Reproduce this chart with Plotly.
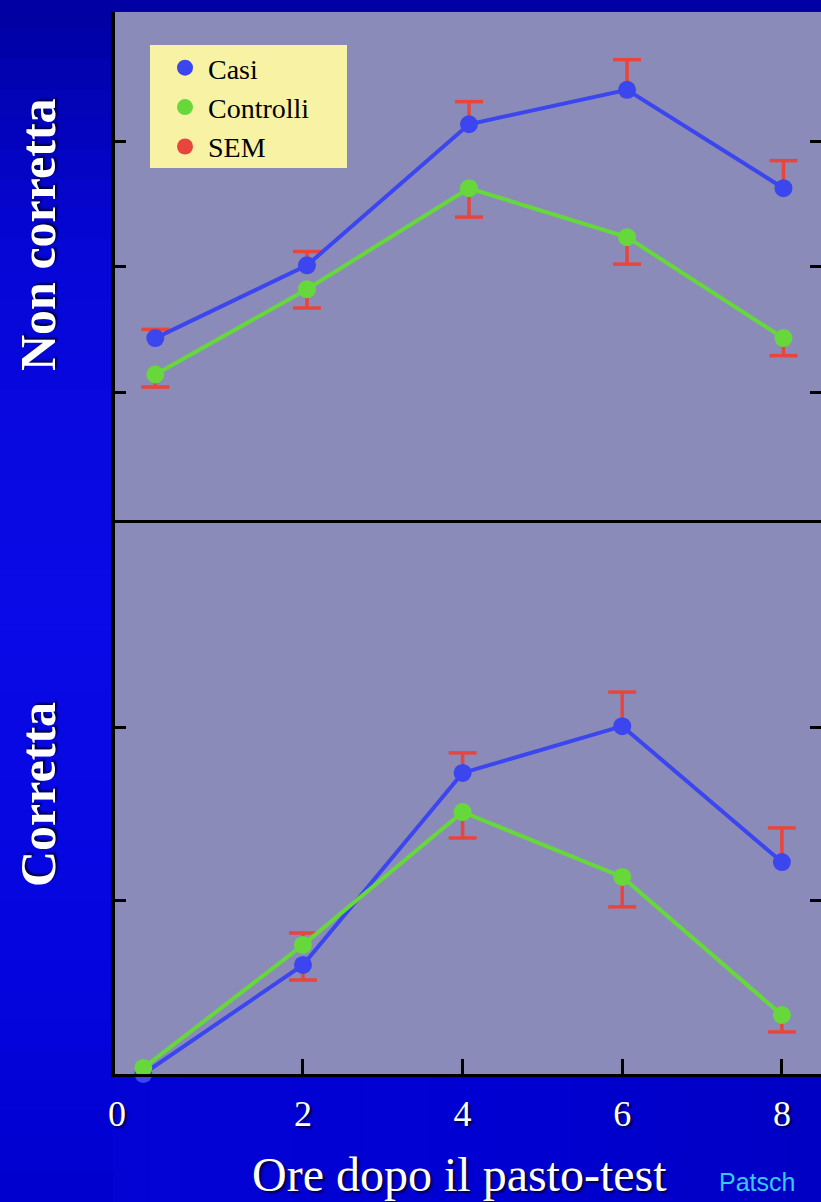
import plotly.graph_objects as go

# ---------------- data ----------------
hours_top = [0.15, 2.05, 4.08, 6.06, 8.02]
hours_bottom = [0, 2, 4, 6, 8]

# Non corretta (upper panel)
casi_top = [1.43, 2.01, 3.135, 3.41, 2.625]
casi_top_sem_up = [0.07, 0.11, 0.18, 0.24, 0.22]
casi_top_sem_down = [None, None, None, None, None]
ctrl_top = [1.14, 1.82, 2.625, 2.235, 1.43]
ctrl_top_sem_up = [None, None, None, None, None]
ctrl_top_sem_down = [0.10, 0.15, 0.23, 0.215, 0.14]

# Corretta (lower panel)
casi_bot = [0.0, 0.63, 1.74, 2.01, 1.225]
casi_bot_sem_up = [None, None, 0.116, 0.197, 0.197]
casi_bot_sem_down = [None, 0.087, None, None, None]
ctrl_bot = [0.035, 0.746, 1.514, 1.139, 0.341]
ctrl_bot_sem_up = [None, 0.069, None, None, None]
ctrl_bot_sem_down = [None, None, 0.15, 0.173, 0.098]

x_tick_vals = [-0.33, 2, 4, 6, 8]
x_tick_text = ["0", "2", "4", "6", "8"]
x_inner_ticks = [2, 4, 6, 8]
top_y_ticks = [1, 2, 3]
bot_y_ticks = [1, 2]

# ---------------- styles ----------------
W, H = 821, 1202
BLUE = "#3c46ee"
GREEN = "#66d83c"
RED = "#e8463c"
SERIF = "Liberation Serif, Times New Roman, serif"
SHADOW = "2px 2px 2px #000040"
X_RANGE = [-0.355, 8.49]

fig = go.Figure()


def zero(v):
    return [0 if e is None else e for e in v]


def add_series(x, y, up, down, color, xa, ya):
    fig.add_trace(go.Scatter(
        x=x, y=y, mode="lines+markers", xaxis=xa, yaxis=ya,
        line=dict(color=color, width=4),
        marker=dict(color=color, size=18),
        error_y=dict(type="data", symmetric=False, array=zero(up), arrayminus=zero(down),
                     color=RED, thickness=3.5, width=0),
        showlegend=False, cliponaxis=False, hoverinfo="skip"))


def add_hats(x, y, up, down, xa, ya):
    hx, hy = [], []
    for xi, yi, u, d in zip(x, y, up, down):
        if u is not None:
            hx.append(xi); hy.append(yi + u)
        if d is not None:
            hx.append(xi); hy.append(yi - d)
    fig.add_trace(go.Scatter(
        x=hx, y=hy, mode="markers", xaxis=xa, yaxis=ya,
        marker=dict(symbol="line-ew", size=20, line=dict(color=RED, width=3.5)),
        showlegend=False, cliponaxis=False, hoverinfo="skip"))


# legend entries
fig.add_trace(go.Scatter(x=[None], y=[None], mode="markers", name="Casi",
                         marker=dict(color=BLUE, size=16), legendrank=1))
fig.add_trace(go.Scatter(x=[None], y=[None], mode="markers", name="Controlli",
                         marker=dict(color=GREEN, size=16), legendrank=2))
fig.add_trace(go.Scatter(x=[None], y=[None], mode="markers", name="SEM",
                         marker=dict(color=RED, size=16), legendrank=3))

# upper panel
add_hats(hours_top, casi_top, casi_top_sem_up, casi_top_sem_down, "x", "y")
add_hats(hours_top, ctrl_top, ctrl_top_sem_up, ctrl_top_sem_down, "x", "y")
add_series(hours_top, casi_top, casi_top_sem_up, casi_top_sem_down, BLUE, "x", "y")
add_series(hours_top, ctrl_top, ctrl_top_sem_up, ctrl_top_sem_down, GREEN, "x", "y")

# lower panel
add_hats(hours_bottom, casi_bot, casi_bot_sem_up, casi_bot_sem_down, "x2", "y2")
add_hats(hours_bottom, ctrl_bot, ctrl_bot_sem_up, ctrl_bot_sem_down, "x2", "y2")
add_series(hours_bottom, casi_bot, casi_bot_sem_up, casi_bot_sem_down, BLUE, "x2", "y2")
add_series(hours_bottom, ctrl_bot, ctrl_bot_sem_up, ctrl_bot_sem_down, GREEN, "x2", "y2")

# empty traces to carry the tick-only overlay axes
for xa, ya in (("x", "y3"), ("x2", "y4"), ("x3", "y2")):
    fig.add_trace(go.Scatter(x=[None], y=[None], xaxis=xa, yaxis=ya, showlegend=False,
                             hoverinfo="skip"))

X0 = 115 / W
top_dom = [1 - 520 / H, 1 - 12 / H]
bot_dom = [1 - 1074 / H, 1 - 522 / H]

common_off = dict(showgrid=False, zeroline=False, automargin=False)
ytick = dict(ticks="inside", ticklen=11, tickwidth=3, tickcolor="black", showticklabels=False)


# background gradient bands (outside the plot areas only), overlapping to avoid seams
def lerp_color(stops, t):
    for (t0, c0), (t1, c1) in zip(stops, stops[1:]):
        if t0 <= t <= t1:
            f = (t - t0) / (t1 - t0) if t1 > t0 else 0
            return "rgb(%d,%d,%d)" % tuple(round(a + (b - a) * f) for a, b in zip(c0, c1))
    return "rgb(%d,%d,%d)" % stops[-1][1]


left_stops = [(0, (0, 0, 160)), (250, (6, 6, 215)), (600, (10, 10, 232)),
              (1000, (4, 4, 222)), (1202, (0, 0, 205))]
shapes = []
N = 40
for i in range(N):
    y0 = i * H / N
    y1 = (i + 1) * H / N
    shapes.append(dict(type="rect", xref="paper", yref="paper", x0=-0.02, x1=114 / W,
                       y0=1 - (y1 + 2) / H, y1=1 - (y0 - 1) / H,
                       fillcolor=lerp_color(left_stops, (y0 + y1) / 2),
                       line=dict(width=0), layer="below"))
bottom_stops = [(113, (3, 3, 214)), (500, (0, 0, 210)), (821, (0, 0, 196))]
NB = 20
for i in range(NB):
    x0 = 113 + i * (W - 113) / NB
    x1 = 113 + (i + 1) * (W - 113) / NB
    shapes.append(dict(type="rect", xref="paper", yref="paper", x0=x0 / W,
                       x1=(x1 + 2) / W, y0=-0.02, y1=1 - 1076 / H,
                       fillcolor=lerp_color(bottom_stops, (x0 + x1) / 2),
                       line=dict(width=0), layer="below"))
shapes.append(dict(type="rect", xref="paper", yref="paper", x0=113 / W, x1=1.02,
                   y0=1 - 11 / H, y1=1.02, fillcolor="#0000a4", line=dict(width=0),
                   layer="below"))
# legend box
shapes.append(dict(type="rect", xref="paper", yref="paper", x0=150 / W, x1=347 / W,
                   y0=1 - 168 / H, y1=1 - 45 / H, fillcolor="#f8f3a4",
                   line=dict(width=0), layer="above"))

fig.update_layout(
    width=W, height=H, margin=dict(l=0, r=0, t=0, b=0, autoexpand=False),
    paper_bgcolor="#0000d0", plot_bgcolor="#8b8bb9",
    showlegend=True,
    legend=dict(x=162 / W, y=1 - 43 / H, xanchor="left", yanchor="top",
                bgcolor="rgba(0,0,0,0)", borderwidth=0,
                font=dict(family=SERIF, size=28, color="black"),
                itemwidth=36, tracegroupgap=0),
    xaxis=dict(domain=[X0, 1], range=X_RANGE, anchor="y", showline=True, linecolor="black",
               linewidth=3, ticks="", showticklabels=False, **common_off),
    yaxis=dict(domain=top_dom, range=[-0.02, 4.03], anchor="x", showline=True,
               linecolor="black", linewidth=4, tickvals=top_y_ticks, **ytick, **common_off),
    yaxis3=dict(overlaying="y", side="right", anchor="x", range=[-0.02, 4.03],
                showline=False, tickvals=top_y_ticks, **ytick, **common_off),
    xaxis2=dict(domain=[X0, 1], range=X_RANGE, anchor="y2", showline=True, linecolor="black",
                linewidth=3, ticks="", tickvals=x_tick_vals, ticktext=x_tick_text,
                ticklabelstandoff=6,
                tickfont=dict(family=SERIF, size=36, color="white", shadow=SHADOW),
                **common_off),
    xaxis3=dict(overlaying="x2", anchor="y2", range=X_RANGE, showline=False,
                tickvals=x_inner_ticks, ticks="inside", ticklen=15, tickwidth=3,
                tickcolor="black", showticklabels=False, **common_off),
    yaxis2=dict(domain=bot_dom, range=[0, 3.19], anchor="x2", showline=True,
                linecolor="black", linewidth=4, tickvals=bot_y_ticks, **ytick, **common_off),
    yaxis4=dict(overlaying="y2", side="right", anchor="x2", range=[0, 3.19],
                showline=False, tickvals=bot_y_ticks, **ytick, **common_off),
    shapes=shapes,
    annotations=[
        dict(text="Non corretta", x=38 / W, y=1 - 235 / H, xref="paper", yref="paper",
             xanchor="center", yanchor="middle", textangle=-90, showarrow=False,
             font=dict(family=SERIF, size=50, color="white", weight="bold", shadow=SHADOW)),
        dict(text="Corretta", x=38 / W, y=1 - 795 / H, xref="paper", yref="paper",
             xanchor="center", yanchor="middle", textangle=-90, showarrow=False,
             font=dict(family=SERIF, size=50, color="white", weight="bold", shadow=SHADOW)),
        dict(text="Ore dopo il pasto-test", x=460 / W, y=1 - 1174 / H, xref="paper",
             yref="paper", xanchor="center", yanchor="middle", showarrow=False,
             font=dict(family=SERIF, size=48, color="white", shadow=SHADOW)),
        dict(text="Patsch", x=757 / W, y=1 - 1182 / H, xref="paper", yref="paper",
             xanchor="center", yanchor="middle", showarrow=False,
             font=dict(family="Liberation Sans Narrow, Arial Narrow, sans-serif", size=25,
                       color="#38c8f4")),
    ],
)

fig.write_html("out.html")
